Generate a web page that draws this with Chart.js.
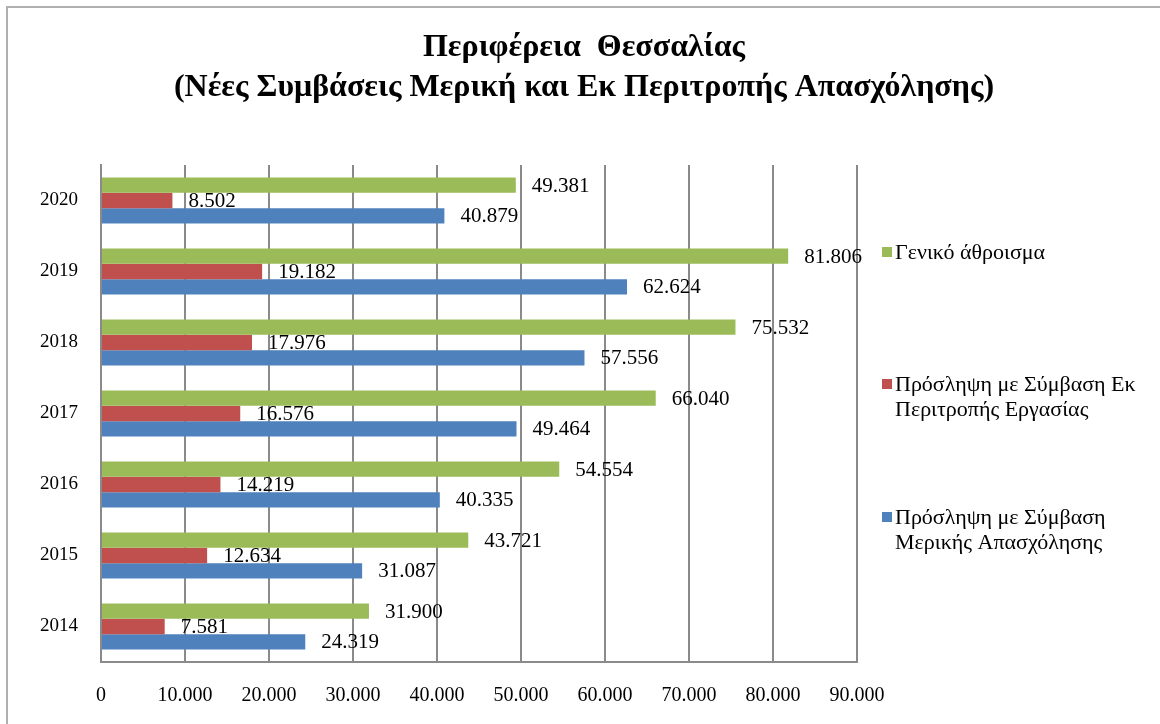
<!DOCTYPE html>
<html>
<head>
<meta charset="utf-8">
<script src="https://cdn.jsdelivr.net/npm/chart.js@4/dist/chart.umd.min.js"></script>
<style>
    html, body { margin: 0; padding: 0; background: #fff; }
    #wrap { position: relative; width: 1160px; height: 724px; overflow: hidden; }
    #frame { position: absolute; left: 6px; top: 6px; width: 1200px; height: 800px;
             border-top: 2px solid #b0b0b0; border-left: 2px solid #b0b0b0; }
    canvas { position: absolute; left: 0; top: 0; }
</style>
</head>
<body>
<div id="wrap">
    <div id="frame"></div>
    <canvas id="chart" width="1160" height="724"></canvas>
</div>
<script>
// ===== Data =====
const years = ['2014', '2015', '2016', '2017', '2018', '2019', '2020'];
const partTime = [24319, 31087, 40335, 49464, 57556, 62624, 40879];
const rotation = [7581, 12634, 14219, 16576, 17976, 19182, 8502];
const total = [31900, 43721, 54554, 66040, 75532, 81806, 49381];

const titleLines = ['Περιφέρεια  Θεσσαλίας', '(Νέες Συμβάσεις Μερική και Εκ Περιτροπής Απασχόλησης)'];
const seriesNames = [
    ['Γενικό άθροισμα'],
    ['Πρόσληψη με Σύμβαση Εκ', 'Περιτροπής Εργασίας'],
    ['Πρόσληψη με Σύμβαση', 'Μερικής Απασχόλησης']
];

const colors = {
    green: '#9BBB59',
    red: '#C0504D',
    blue: '#4F81BD',
    grid: '#8a8a8a'
};

const serif = '"Liberation Serif", "Times New Roman", serif';

// greek thousands separator
const fmt = (v) => String(v).replace(/\B(?=(\d{3})+(?!\d))/g, '.');

// ===== Plugins =====
const valueLabels = {
    id: 'valueLabels',
    afterDatasetsDraw(chart) {
        const ctx = chart.ctx;
        ctx.save();
        ctx.font = '21px ' + serif;
        ctx.fillStyle = '#000';
        ctx.textBaseline = 'middle';
        ctx.textAlign = 'left';
        chart.data.datasets.forEach((ds, i) => {
            chart.getDatasetMeta(i).data.forEach((bar, j) => {
                ctx.fillText(fmt(ds.data[j]), bar.x + 16, bar.y + 1);
            });
        });
        ctx.restore();
    }
};

const titleAndLegend = {
    id: 'titleAndLegend',
    afterDraw(chart) {
        const ctx = chart.ctx;
        ctx.save();
        // title
        ctx.fillStyle = '#000';
        ctx.textAlign = 'center';
        ctx.textBaseline = 'middle';
        ctx.font = 'bold 32px ' + serif;
        ctx.fillText(titleLines[0], 584, 48);
        ctx.fillText(titleLines[1], 584, 88);

        // legend
        const itemY = [253, 385, 518];
        ctx.textAlign = 'left';
        ctx.font = '22px ' + serif;
        chart.data.datasets.forEach((ds, i) => {
            const y = itemY[i];
            ctx.fillStyle = ds.backgroundColor;
            ctx.fillRect(882, y - 6, 10, 10);
            ctx.fillStyle = '#000';
            seriesNames[i].forEach((line, k) => {
                ctx.fillText(line, 895, y + k * 25);
            });
        });
        ctx.restore();
    }
};

// ===== Chart =====
new Chart(document.getElementById('chart'), {
    type: 'bar',
    data: {
        labels: years,
        datasets: [
            { label: seriesNames[0].join(' '), data: total, backgroundColor: colors.green },
            { label: seriesNames[1].join(' '), data: rotation, backgroundColor: colors.red },
            { label: seriesNames[2].join(' '), data: partTime, backgroundColor: colors.blue }
        ]
    },
    options: {
        indexAxis: 'y',
        responsive: false,
        animation: false,
        barPercentage: 1,
        categoryPercentage: 0.65,
        layout: { padding: { top: 165, right: 303, bottom: 0, left: 0 } },
        plugins: {
            legend: { display: false },
            title: { display: false },
            tooltip: { enabled: false }
        },
        scales: {
            x: {
                min: 0,
                max: 90000,
                afterFit: (scale) => { scale.height = 62; },
                grid: { color: colors.grid, lineWidth: 2, drawTicks: false },
                border: { color: colors.grid, width: 2 },
                ticks: {
                    stepSize: 10000,
                    padding: 22,
                    color: '#000',
                    font: { family: serif, size: 20 },
                    callback: (value) => fmt(value)
                }
            },
            y: {
                reverse: true,
                afterFit: (scale) => { scale.width = 101; },
                grid: { display: false, drawTicks: false },
                border: { color: colors.grid, width: 2 },
                ticks: {
                    padding: 23,
                    color: '#000',
                    font: { family: serif, size: 19 }
                }
            }
        }
    },
    plugins: [valueLabels, titleAndLegend]
});
</script>
</body>
</html>
